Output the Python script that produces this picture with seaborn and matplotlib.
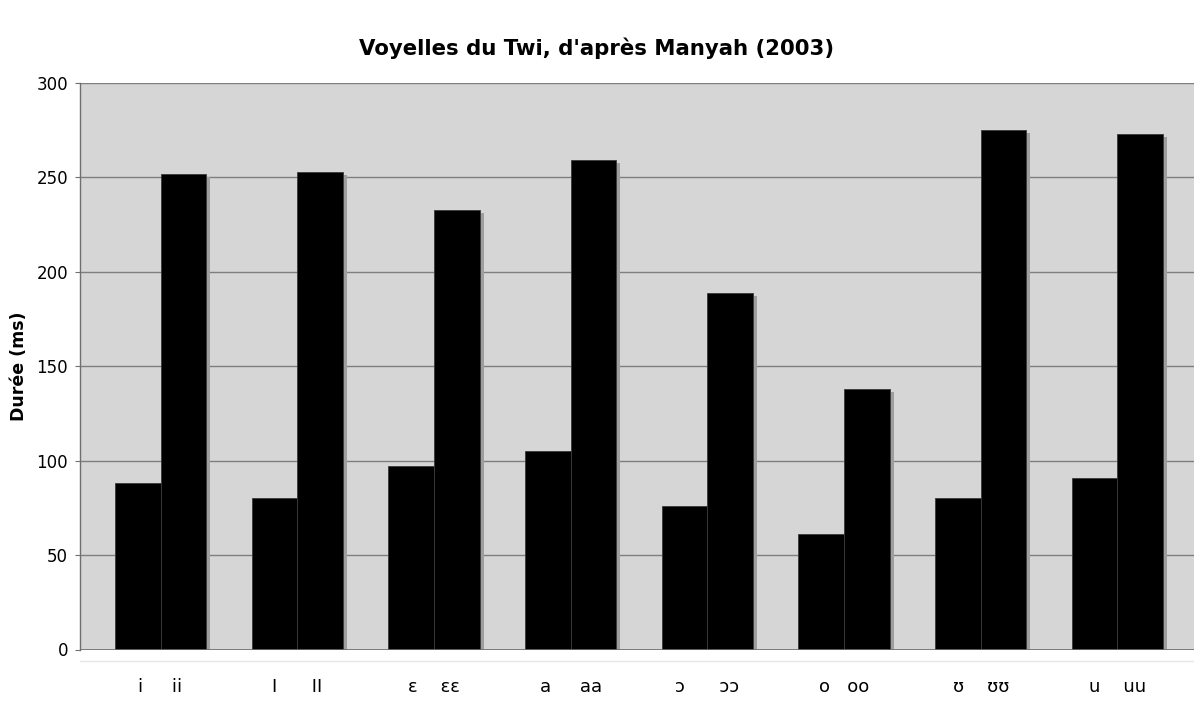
import matplotlib
matplotlib.use("Agg")
import matplotlib.pyplot as plt
import matplotlib.patheffects as pe
import seaborn as sns
import pandas as pd

# Vowel durations in Twi (ms), short vs. long, after Manyah (2003)
vowels_short = ["i", "I", "ε", "a", "ɔ", "o", "ʊ", "u"]
vowels_long = ["ii", "II", "εε", "aa", "ɔɔ", "oo", "ʊʊ", "uu"]
dur_short = [88, 80, 97, 105, 76, 61, 80, 91]
dur_long = [252, 253, 233, 259, 189, 138, 275, 273]
# spacing between the short and long symbol in each category label
label_gaps = [5, 6, 4, 5, 6, 3, 4, 4]
yticks = [0, 50, 100, 150, 200, 250, 300]

pairs = [f"{s}|{l}" for s, l in zip(vowels_short, vowels_long)]
df = pd.DataFrame({
    "pair": pairs * 2,
    "type": ["court"] * len(pairs) + ["long"] * len(pairs),
    "duree": dur_short + dur_long,
})

sns.set_theme(style="white")
plt.rcParams["font.family"] = ["DejaVu Sans"]
plt.rcParams.update({"text.color": "black", "axes.labelcolor": "black",
                     "xtick.color": "black", "ytick.color": "black"})

fig = plt.figure(figsize=(11.94, 7.16), dpi=100)
ax = fig.add_axes([80 / 1194, 1 - 649.5 / 716, (1194 - 80) / 1194, (649.5 - 83) / 716])
ax.set_facecolor("#d6d6d6")
ax.set_axisbelow(True)

sns.barplot(data=df, x="pair", y="duree", hue="type", order=pairs,
            palette=["black", "black"], width=0.667, dodge=True, gap=0,
            edgecolor="#3a3a3a", linewidth=0.6, legend=False, ax=ax)

shadow = [pe.SimplePatchShadow(offset=(3, -2.2), shadow_rgbFace="#9e9e9e", alpha=1.0),
          pe.Normal()]
for p in ax.patches:
    p.set_path_effects(shadow)

ax.set_ylim(0, 300)
ax.set_yticks(yticks)
ax.set_xlim(-0.589, 7.56)
ax.yaxis.grid(True, color="#7f7f7f", linewidth=1.0)
ax.xaxis.grid(False)

ax.tick_params(axis="x", length=0, pad=12, labelsize=13)
ax.tick_params(axis="y", length=3.6, width=0.8, color="#6f6f6f", direction="out",
               left=True, pad=5, labelsize=12)

labels = [s + " " * g + l for s, l, g in zip(vowels_short, vowels_long, label_gaps)]
ax.set_xticks(range(len(pairs)))
ax.set_xticklabels(labels, family=["Liberation Sans", "DejaVu Sans"], fontsize=13)

for side in ["top", "right"]:
    ax.spines[side].set_visible(False)
ax.spines["left"].set_color("#6f6f6f")
ax.spines["left"].set_linewidth(1.0)
ax.spines["bottom"].set_position(("outward", 8.5))
ax.spines["bottom"].set_color("#e6e6e6")
ax.spines["bottom"].set_linewidth(1.0)
ax.axhline(0, color="#6f6f6f", linewidth=1.2, zorder=5)

ax.set_xlabel("")
ax.set_ylabel("Durée (ms)", fontsize=12.5, fontweight="bold", labelpad=6)

fig.text(597 / 1194, 1 - 48 / 716, "Voyelles du Twi, d'après Manyah (2003)",
         ha="center", va="center", fontsize=15.3, fontweight="bold")

fig.savefig("out.png", dpi=100, facecolor="white")
